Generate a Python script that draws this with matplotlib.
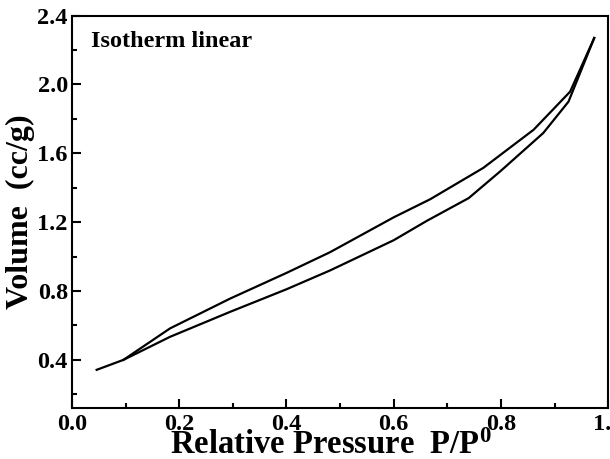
import numpy as np
import matplotlib
matplotlib.use("Agg")
import matplotlib.pyplot as plt
from matplotlib.ticker import MultipleLocator

# adsorption branch (lower)
ads_x = [0.046, 0.096, 0.183, 0.295, 0.40, 0.481, 0.60, 0.662, 0.74, 0.799, 0.879, 0.926, 0.974]
ads_y = [0.342, 0.400, 0.534, 0.679, 0.810, 0.919, 1.095, 1.208, 1.340, 1.496, 1.718, 1.900, 2.270]
# desorption branch (upper)
des_x = [0.974, 0.929, 0.861, 0.767, 0.668, 0.60, 0.481, 0.40, 0.295, 0.183, 0.096]
des_y = [2.270, 1.958, 1.737, 1.515, 1.333, 1.228, 1.025, 0.905, 0.756, 0.583, 0.400]

xticks = [0.0, 0.2, 0.4, 0.6, 0.8, 1.0]
yticks = [0.4, 0.8, 1.2, 1.6, 2.0, 2.4]

plt.rcParams['font.family'] = 'Liberation Serif'
plt.rcParams['font.weight'] = 'bold'
plt.rcParams['mathtext.fontset'] = 'custom'
plt.rcParams['mathtext.rm'] = 'Liberation Serif:bold'
plt.rcParams['mathtext.it'] = 'Liberation Serif:bold'
plt.rcParams['mathtext.bf'] = 'Liberation Serif:bold'

fig = plt.figure(figsize=(6.1, 4.59), dpi=100)
ax = fig.add_axes([0.118, 0.111, 0.879, 0.855])

ax.plot(ads_x, ads_y, color='black', lw=1.6)
ax.plot(des_x, des_y, color='black', lw=1.6)

ax.set_xlim(0.0, 1.0)
ax.set_ylim(0.12, 2.40)
ax.set_xticks(xticks)
ax.set_yticks(yticks)
ax.set_xticklabels(["%.1f" % v for v in xticks])
ax.set_yticklabels(["%.1f" % v for v in yticks])
ax.xaxis.set_minor_locator(MultipleLocator(0.1))
ax.yaxis.set_minor_locator(MultipleLocator(0.2))
ax.tick_params(which='both', direction='in', width=1.5, labelsize=17.5)
ax.tick_params(axis='x', pad=4)
ax.tick_params(axis='y', pad=3)
ax.tick_params(which='major', length=6.5)
ax.tick_params(which='minor', length=3.5)
for s in ax.spines.values():
    s.set_linewidth(1.5)

ax.set_xlabel("Relative Pressure  P/P$^{0}$", fontsize=23.5, fontweight='bold',
              labelpad=-3, x=0.482)
ax.set_ylabel("Volume  (cc/g)", fontsize=23, fontweight='bold', labelpad=2)
ax.text(0.035, 0.92, "Isotherm linear", transform=ax.transAxes,
        fontsize=17.5, fontweight='bold')

fig.savefig("out.png", dpi=100)
